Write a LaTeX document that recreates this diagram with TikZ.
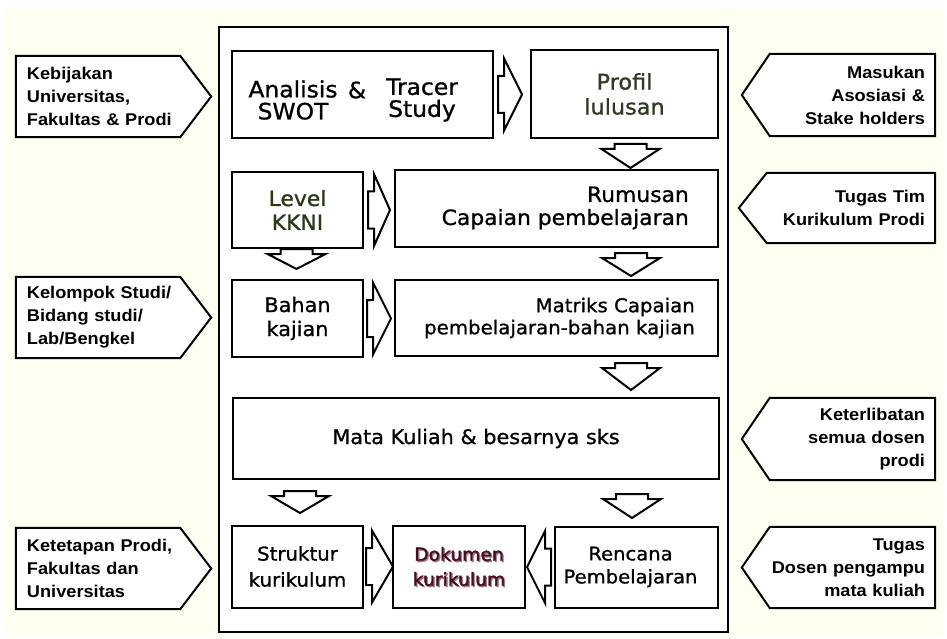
\documentclass[tikz,border=0pt]{standalone}
\usepackage{fontspec}
\usetikzlibrary{calc,backgrounds}
\newfontfamily\boxfont[FakeStretch=1.04,FakeBold=1]{DejaVu Sans}
\newfontfamily\dokfont[FakeStretch=1.04,FakeBold=2]{DejaVu Sans}
\newfontfamily\tagfont[FakeStretch=1.07]{Liberation Sans}
\definecolor{cream}{RGB}{255,255,241}
\definecolor{profilcol}{RGB}{48,58,38}
\definecolor{levelcol}{RGB}{40,56,24}
\definecolor{dokcol}{RGB}{72,14,30}
\definecolor{dokshadow}{RGB}{160,120,130}
\begin{document}
\begin{tikzpicture}[x=1pt,y=-1pt,
  box/.style={draw=black, fill=white, line width=2pt, inner sep=0pt, align=center},
  arrline/.style={draw=black, fill=white, line width=2pt, line join=miter},
  tagline/.style={draw=black, fill=white, line width=2pt, line join=miter},
  tagtext/.style={inner ysep=0pt, font=\tagfont\bfseries\fontsize{17}{23}\selectfont},
  ltag/.style={tagtext, text width=173pt, inner xsep=11pt, align=left},
  rtag/.style={tagtext, text width=173pt, inner xsep=10pt, align=right},
  txt/.style={inner sep=0pt, align=center},
  pics/rarr/.style={code={\draw[arrline] (0,-18.5) -- (6,-18.5) -- (6,-36) -- (#1,0) -- (6,36) -- (6,18.5) -- (0,18.5) -- cycle;}},
  pics/darr/.style={code={\draw[arrline] (0,-16) -- (5,-16) -- (5,-29) -- (#1,0) -- (5,29) -- (5,16) -- (0,16) -- cycle;}}
]
\useasboundingbox (0,0) rectangle (947,639);
\begin{scope}[on background layer]
  \fill[white] (0,0) rectangle (947,639);
  \fill[cream] (5,8) rectangle (943,638);
\end{scope}

% outer frame
\node[draw=black, fill=white, line width=2.4pt, minimum width=509pt, minimum height=605pt, inner sep=0pt] (frame) at (473.5,329.5) {};

% boxes
\node[box, minimum width=261pt, minimum height=87pt] (A) at (362.5,94.5) {};
\node[txt, font=\boxfont\fontsize{22.5}{22}\selectfont] (a1) at (293,100) {Analisis\\SWOT};
\node[txt, font=\boxfont\fontsize{22.5}{22}\selectfont] (amp) at (357,90) {\&};
\node[txt, font=\boxfont\fontsize{22.5}{22}\selectfont] (a2) at (422,100) {Tracer\\Study};

\node[box, minimum width=187pt, minimum height=88pt, text=profilcol, font=\boxfont\fontsize{21.5}{25}\selectfont] (P) at (624.5,94) {Profil\\lulusan};

\node[box, minimum width=131pt, minimum height=76pt, text=levelcol, font=\boxfont\fontsize{21}{24}\selectfont] (L) at (297.5,210) {Level\\KKNI};

\node[box, minimum width=323pt, minimum height=77pt] (R) at (556.5,208.5) {};
\node[txt, anchor=east, align=right, font=\boxfont\fontsize{21}{23}\selectfont] (r1) at (689,208) {Rumusan\\Capaian pembelajaran};

\node[box, minimum width=131pt, minimum height=77pt, font=\boxfont\fontsize{20}{24}\selectfont] (B) at (297.5,318.5) {Bahan\\kajian};

\node[box, minimum width=323pt, minimum height=76pt] (M) at (556.5,318) {};
\node[txt, anchor=east, align=right, font=\boxfont\fontsize{19}{22}\selectfont] (m1) at (695,318) {Matriks Capaian\\pembelajaran-bahan kajian};

\node[box, minimum width=486pt, minimum height=81pt, font=\boxfont\fontsize{20}{22}\selectfont] (MK) at (476,438.5) {Mata Kuliah \& besarnya sks};

\node[box, minimum width=131pt, minimum height=82pt, font=\boxfont\fontsize{19}{26}\selectfont] (S) at (297.5,566.5) {Struktur\\kurikulum};

\node[box, minimum width=132pt, minimum height=82pt] (D) at (459,566.5) {};
\node[txt, text=dokshadow, font=\dokfont\fontsize{18}{25}\selectfont] (dsh) at ($(D.center)+(1.3,1.3)$) {Dokumen\\kurikulum};
\node[txt, text=dokcol, font=\dokfont\fontsize{18}{25}\selectfont] (dtx) at (D.center) {Dokumen\\kurikulum};

\node[box, minimum width=163pt, minimum height=81pt] (RP) at (636.5,567) {};
\node[txt, font=\boxfont\fontsize{18.8}{23}\selectfont] (rp1) at (630.5,567) {Rencana\\Pembelajaran};

% block arrows between boxes
\pic at ($(A.east)+(4,0)$) {rarr=24};
\pic at ($(L.east)+(4,0)$) {rarr=22};
\pic at ($(B.east)+(3,0)$) {rarr=24};
\pic at ($(S.east)+(2,0)$) {rarr=27};
\pic[rotate=180] at ($(RP.west)+(-3,0)$) {rarr=24};

\pic[rotate=-90] at ($(P.south)+(6,5)$) {darr=24};
\pic[rotate=-90] at ($(L.south)+(-1,0)$) {darr=20};
\pic[rotate=-90] at ($(R.south east)+(-88,5)$) {darr=23};
\pic[rotate=-90] at ($(M.south east)+(-88,6)$) {darr=27};
\pic[rotate=-90] at ($(MK.south west)+(68,11)$) {darr=22};
\pic[rotate=-90] at ($(MK.south east)+(-88,14)$) {darr=24};

% left tags
\node[ltag, minimum height=81pt] (k1) at (113.5,96.5) {Kebijakan\\Universitas,\\Fakultas \& Prodi};
\node[ltag, minimum height=81pt] (k2) at (113.5,317.5) {Kelompok Studi/\\Bidang studi/\\Lab/Bengkel};
\node[ltag, minimum height=81pt] (k3) at (113.5,568.5) {Ketetapan Prodi,\\Fakultas dan\\Universitas};

% right tags
\node[rtag, minimum height=82pt] (t1) at (838.5,95) {Masukan\\Asosiasi \&\\Stake holders};
\node[rtag, minimum height=70pt, text width=176pt] (t2) at (837,208) {Tugas Tim\\Kurikulum Prodi};
\node[rtag, minimum height=82pt] (t3) at (838.5,439) {Keterlibatan\\semua dosen\\prodi};
\node[rtag, minimum height=81pt] (t4) at (838.5,567.5) {Tugas\\Dosen pengampu\\mata kuliah};

\begin{scope}[on background layer]
  \foreach \n in {k1,k2,k3}{
    \filldraw[tagline] (\n.north west) -- ([xshift=-31pt]\n.north east) -- (\n.east) -- ([xshift=-31pt]\n.south east) -- (\n.south west) -- cycle;
  }
  \foreach \n in {t1,t2,t3,t4}{
    \filldraw[tagline] (\n.north east) -- ([xshift=28pt]\n.north west) -- (\n.west) -- ([xshift=28pt]\n.south west) -- (\n.south east) -- cycle;
  }
\end{scope}
\end{tikzpicture}
\end{document}
